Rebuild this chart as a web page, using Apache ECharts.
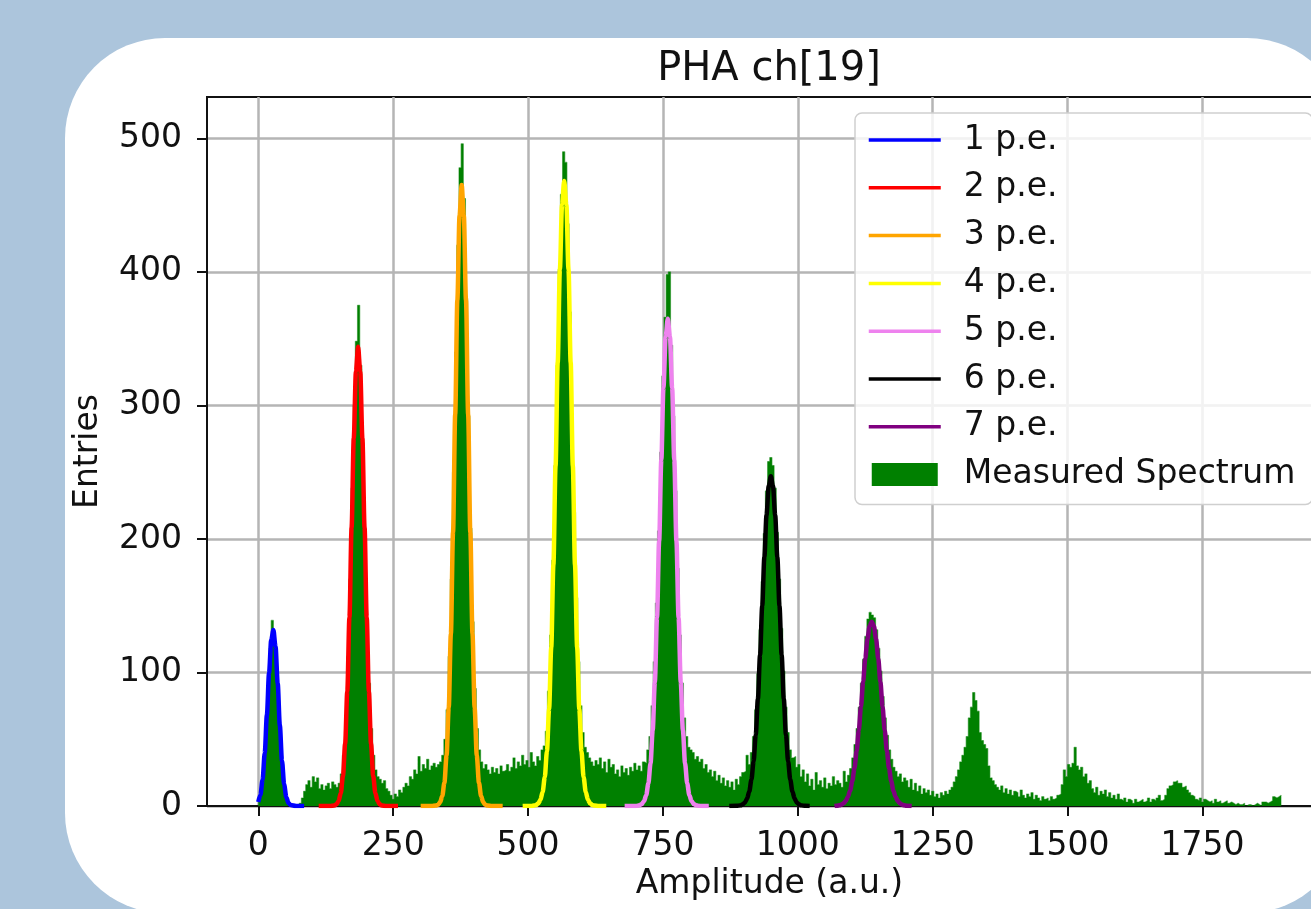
<!DOCTYPE html>
<html>
<head>
<meta charset="utf-8">
<script src="https://cdn.jsdelivr.net/npm/echarts@6/dist/echarts.min.js"></script>
<style>
  html, body { margin: 0; padding: 0; width: 1311px; height: 909px; overflow: hidden; background: #acc5dc; }
  .card { position: absolute; left: 65px; top: 38px; width: 1282px; height: 875px; border-radius: 100px; background: #ffffff; }
  #chart { position: absolute; left: 0; top: 0; width: 1311px; height: 909px; }
</style>
</head>
<body>
<div class="card"></div>
<div id="chart"></div>
<script>
// Histogram: counts per bin, bins of equal width starting at binStart
const binStart = 0;
const binWidth = 4;
const spectrumCounts = [
  4,12,31,50,88,118,139,126,104,79,44,22,11,4,2,1,0,1,0,2,6,11,
  16,19,14,22,18,21,13,16,12,15,17,13,18,16,14,17,
  24,38,66,112,170,238,300,348,375,330,272,205,140,92,58,38,27,22,
  20,17,19,13,11,8,5,9,7,12,10,14,17,15,22,20,27,24,37,26,31,28,35,27,30,32,29,
  31,33,38,50,72,112,170,250,340,420,478,496,455,380,292,208,138,88,58,42,33,28,31,
  27,24,29,25,28,24,30,26,27,31,26,29,36,28,33,30,38,31,34,29,40,
  33,30,37,34,42,45,56,86,128,184,255,330,402,458,490,482,436,370,294,220,156,108,75,55,44,40,36,33,30,34,
  31,36,28,33,25,35,29,31,24,27,22,30,25,28,23,29,26,32,27,
  30,26,33,32,42,52,75,108,152,206,265,322,366,398,400,345,292,236,178,128,92,66,52,44,42,40,35,
  37,33,35,28,31,25,27,22,26,19,23,17,21,15,19,14,18,12,20,16,22,25,
  26,38,31,40,52,72,99,132,168,204,236,258,261,255,238,205,170,133,101,74,55,42,36,37,29,
  31,22,27,18,24,15,20,12,25,16,19,14,21,13,17,15,22,16,19,
  17,14,26,18,23,28,36,46,58,74,92,110,127,140,145,143,141,132,118,101,82,66,53,42,35,29,26,22,24,18,21,
  19,14,20,12,17,11,15,9,13,10,12,8,11,7,9,6,10,8,11,9,12,14,18,
  22,27,33,38,44,52,66,74,85,79,71,55,49,46,43,30,21,19,16,
  14,12,15,10,13,9,12,8,11,10,7,12,8,6,9,7,10,5,8,6,4,7,5,6,4,7,5,6,8,
  9,16,27,22,31,29,32,44,30,27,29,22,24,17,19,
  13,10,14,8,11,9,12,7,10,6,8,5,9,5,4,6,3,5,4,2,5,3,4,5,3,4,6,3,5,4,6,8,4,5,
  8,13,15,16,18,19,17,17,14,15,12,10,8,7,
  5,4,6,3,5,4,3,4,2,5,3,4,2,3,4,2,3,2,1,2,1,1,2,0,1,1,0,1,2,1,0,3,3,2,3,4,7,6,7,8
];

// Fitted photo-electron peaks: [amplitude, entries]
const pe1 = [[0,3.0],[4,8.3],[8,19.7],[12,39.7],[16,68.1],[20,99.6],[24,124.2],[28,131.8],[32,119.3],[36,92.0],[40,60.4],[44,33.8],[48,16.1],[52,6.6],[56,2.3],[60,0.7],[70,0],[85,0]];
const pe2 = [[112,0],[133,0],[141,0.4],[145,1.3],[149,3.8],[153,9.8],[157,22.6],[161,46.6],[165,85.8],[169,141.4],[173,208.6],[177,275.5],[181,325.4],[185,344],[189,325.4],[193,275.5],[197,208.6],[201,141.4],[205,85.8],[209,46.6],[213,22.6],[217,9.8],[221,3.8],[225,1.3],[229,0.4],[237,0],[259,0]];
const pe3 = [[301,0],[321,0],[329,0.3],[333,0.9],[337,2.8],[341,7.4],[345,17.5],[349,37.8],[353,73.6],[357,129.2],[361,205.0],[365,293.3],[369,378.9],[373,441.8],[377,465],[381,441.8],[385,378.9],[389,293.3],[393,205.0],[397,129.2],[401,73.6],[405,37.8],[409,17.5],[413,7.4],[417,2.8],[421,0.9],[425,0.3],[433,0],[453,0]];
const pe4 = [[490,0],[507,0],[511,0.3],[515,0.8],[519,2.0],[523,4.7],[527,10.4],[531,21.5],[535,41.0],[539,72.6],[543,118.9],[547,180.7],[551,254.6],[555,332.3],[559,401.8],[563,450.5],[567,468],[571,450.5],[575,401.8],[579,332.3],[583,254.6],[587,180.7],[591,118.9],[595,72.6],[599,41.0],[603,21.5],[607,10.4],[611,4.7],[615,2.0],[619,0.8],[623,0.3],[631,0],[645,0]];
const pe5 = [[679,0],[699,0],[703,0.2],[707,0.6],[711,1.5],[715,3.7],[719,8.1],[723,16.8],[727,32.0],[731,56.6],[735,92.7],[739,140.9],[743,198.6],[747,259.2],[751,313.5],[755,351.5],[759,365],[763,351.5],[767,313.5],[771,259.2],[775,198.6],[779,140.9],[783,92.7],[787,56.6],[791,32.0],[795,16.8],[799,8.1],[803,3.7],[807,1.5],[811,0.6],[815,0.2],[823,0],[835,0]];
const pe6 = [[873,0],[886,0.1],[894,0.5],[898,1.3],[902,2.7],[906,5.6],[910,10.8],[914,19.7],[918,33.4],[922,53.4],[926,80.2],[930,113.1],[934,149.8],[938,186.5],[942,218.0],[946,239.4],[950,247],[954,239.4],[958,218.0],[962,186.5],[966,149.8],[970,113.1],[974,80.2],[978,53.4],[982,33.4],[986,19.7],[990,10.8],[994,5.6],[998,2.7],[1002,1.3],[1006,0.5],[1014,0.1],[1022,0]];
const pe7 = [[1068,0],[1073,0.25],[1077,0.5],[1081,1.1],[1085,2.1],[1089,3.9],[1093,7.0],[1097,11.7],[1101,18.7],[1105,28.4],[1109,41.1],[1113,56.7],[1117,74.4],[1121,93.0],[1125,110.5],[1129,125.0],[1133,134.6],[1137,138],[1141,134.6],[1145,125.0],[1149,110.5],[1153,93.0],[1157,74.4],[1161,56.7],[1165,41.1],[1169,28.4],[1173,18.7],[1177,11.7],[1181,7.0],[1185,3.9],[1189,2.1],[1193,1.1],[1197,0.5],[1201,0.25],[1211,0]];

const peakNames = ['1 p.e.', '2 p.e.', '3 p.e.', '4 p.e.', '5 p.e.', '6 p.e.', '7 p.e.'];
const peakColors = ['#0000ff', '#ff0000', '#ffa500', '#ffff00', '#ee82ee', '#000000', '#800080'];
const peakCurves = [pe1, pe2, pe3, pe4, pe5, pe6, pe7];
const spectrumName = 'Measured Spectrum';

const xTicks = [0, 250, 500, 750, 1000, 1250, 1500, 1750];
const yTicks = [0, 100, 200, 300, 400, 500];

const FONT = 'DejaVu Sans';

// Step outline of the histogram: each bin holds its count until the next edge
const spectrumPoints = spectrumCounts.map((c, i) => [binStart + i * binWidth, c]);
spectrumPoints.push([binStart + spectrumCounts.length * binWidth, spectrumCounts[spectrumCounts.length - 1]]);

const chart = echarts.init(document.getElementById('chart'), null, { renderer: 'canvas' });

const series = [{
  name: spectrumName,
  type: 'line',
  step: 'end',
  data: spectrumPoints,
  symbol: 'none',
  color: '#008000',
  lineStyle: { color: 'rgba(0,128,0,0.5)', width: 1.2 },
  areaStyle: { color: '#008000', opacity: 1 },
  z: 2,
  silent: true
}];
peakCurves.forEach((pts, k) => {
  series.push({
    name: peakNames[k],
    type: 'line',
    data: pts,
    symbol: 'none',
    smooth: 0.3,
    smoothMonotone: 'x',
    color: peakColors[k],
    itemStyle: { color: peakColors[k] },
    lineStyle: { color: peakColors[k], width: 4.5 },
    z: 3,
    silent: true
  });
});

const legendData = peakNames.map(n => ({ name: n, itemStyle: { opacity: 0 } }));
legendData.push({ name: spectrumName, icon: 'path://M0,0H66V23H0Z', itemStyle: { color: '#008000', opacity: 1 } });

const plainNumber = v => String(v);

chart.setOption({
  animation: false,
  backgroundColor: 'transparent',
  title: {
    text: 'PHA ch[19]',
    left: 769,
    top: 50,
    padding: 0,
    textAlign: 'center',
    textStyle: { fontFamily: FONT, fontSize: 40, fontWeight: 'normal', color: '#111' }
  },
  grid: {
    left: 207, top: 97, width: 1125, height: 709,
    outerBoundsMode: 'none',
    containLabel: false,
    show: true, borderColor: '#111', borderWidth: 2, backgroundColor: 'transparent'
  },
  legend: {
    orient: 'vertical',
    left: 855,
    top: 113,
    itemWidth: 72,
    itemHeight: 23,
    itemGap: 13.8,
    padding: [10, 17, 13, 12],
    backgroundColor: 'rgba(255,255,255,0.82)',
    borderColor: '#cfcfcf',
    borderWidth: 1.5,
    borderRadius: 7,
    selectedMode: false,
    lineStyle: { width: 3.5 },
    textStyle: { fontFamily: FONT, fontSize: 33, color: '#111', lineHeight: 34, padding: [0, 0, 0, 18] },
    data: legendData
  },
  xAxis: {
    type: 'value',
    min: -95,
    max: 1990,
    name: 'Amplitude (a.u.)',
    nameLocation: 'middle',
    nameGap: 62,
    nameTextStyle: { fontFamily: FONT, fontSize: 33, color: '#111' },
    axisLine: { show: true, onZero: false, lineStyle: { color: '#111', width: 2 } },
    axisTick: { show: true, inside: false, length: 10, lineStyle: { color: '#111', width: 2 }, customValues: xTicks },
    axisLabel: { customValues: xTicks, formatter: plainNumber, fontFamily: FONT, fontSize: 33, color: '#111', margin: 24 },
    splitLine: { show: true, lineStyle: { color: '#b5b5b5', width: 2.5 } }
  },
  yAxis: {
    type: 'value',
    min: 0,
    max: 531,
    name: 'Entries',
    nameLocation: 'middle',
    nameGap: 102,
    nameTextStyle: { fontFamily: FONT, fontSize: 33, color: '#111' },
    axisLine: { show: true, onZero: false, lineStyle: { color: '#111', width: 2 } },
    axisTick: { show: true, inside: false, length: 10, lineStyle: { color: '#111', width: 2 }, customValues: yTicks },
    axisLabel: { customValues: yTicks, formatter: plainNumber, fontFamily: FONT, fontSize: 33, color: '#111', margin: 25 },
    splitLine: { show: true, lineStyle: { color: '#b5b5b5', width: 2.5 } }
  },
  series: series
});
</script>
</body>
</html>
